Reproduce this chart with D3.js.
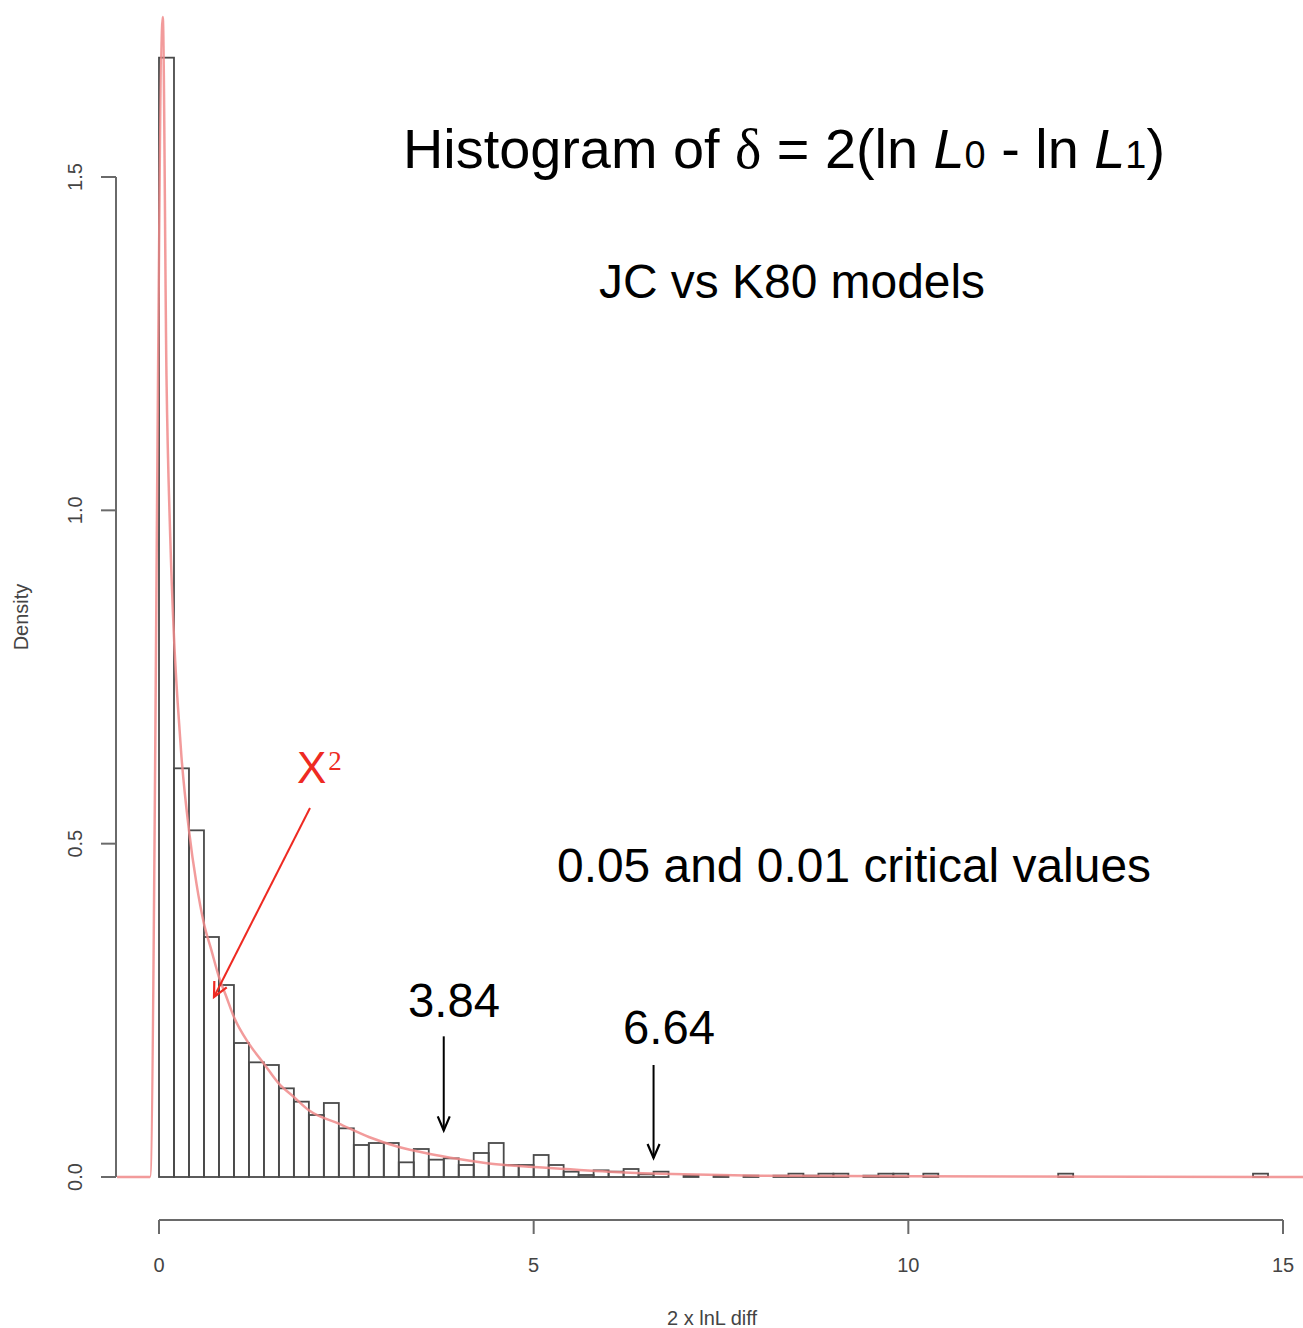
<!DOCTYPE html>
<html>
<head>
<meta charset="utf-8">
<script src="https://cdn.jsdelivr.net/npm/d3@7"></script>
<style>
  html, body { margin: 0; padding: 0; background: #fff; }
  svg { display: block; }
  text { font-family: "Liberation Sans", Arial, Helvetica, sans-serif; }
</style>
</head>
<body>
<svg id="chart" width="1303" height="1328"></svg>
<script>
// ---- data ----
const binWidth = 0.2;
// histogram densities, bins of width 0.2 starting at 0
const densities = [
  1.679, 0.613, 0.520, 0.360, 0.288, 0.201, 0.172, 0.168, 0.133, 0.113,
  0.093, 0.111, 0.073, 0.048, 0.051, 0.051, 0.022, 0.042, 0.026, 0.028,
  0.018, 0.036, 0.051, 0.018, 0.018, 0.033, 0.018, 0.008, 0.003, 0.010,
  0.008, 0.012, 0.004, 0.008, 0.000, 0.002, 0.000, 0.002, 0.000, 0.002,
  0.000, 0.002, 0.005, 0.002, 0.005, 0.005, 0.000, 0.002, 0.005, 0.005,
  0.000, 0.005, 0.000, 0.000, 0.000, 0.000, 0.000, 0.000, 0.000, 0.000,
  0.005, 0.000, 0.000, 0.000, 0.000, 0.000, 0.000, 0.000, 0.000, 0.000,
  0.000, 0.000, 0.000, 0.005
];
// red chi-square curve
const curveX = [-0.56, -0.12, 0.05, 0.1, 0.15, 0.2, 0.25, 0.3, 0.4, 0.5, 0.6, 0.7, 0.8, 0.9, 1.0,
  1.2, 1.4, 1.6, 1.8, 2.0, 2.4, 2.8, 3.2, 3.6, 4.0, 4.5, 5.0, 6.0, 7.0, 8.0, 10, 15.3];
const curveY = [0, 0, 1.74, 1.20, 0.96, 0.81, 0.71, 0.63, 0.52, 0.44, 0.38, 0.34, 0.30, 0.27, 0.24,
  0.20, 0.17, 0.14, 0.12, 0.10, 0.08, 0.06, 0.045, 0.035, 0.027, 0.019, 0.015, 0.008, 0.004, 0.002, 0.001, 0];
const xTicks = [0, 5, 10, 15];
const yTicks = [0.0, 0.5, 1.0, 1.5];
const criticalValues = [3.84, 6.64];
const criticalLabels = ["3.84", "6.64"];

// ---- drawing ----
const svg = d3.select("#chart");
const x = d3.scaleLinear().domain([0, 15]).range([159, 1283]);
const y = d3.scaleLinear().domain([0, 1.5]).range([1177, 177]);

const axisColor = "#6a6a6a";
const labelColor = "#444";

// y axis
const yAxisX = 116;
svg.append("line").attr("x1", yAxisX).attr("x2", yAxisX)
  .attr("y1", y(0)).attr("y2", y(1.5))
  .attr("stroke", axisColor).attr("stroke-width", 2);
yTicks.forEach(t => {
  svg.append("line").attr("x1", yAxisX).attr("x2", yAxisX - 15)
    .attr("y1", y(t)).attr("y2", y(t))
    .attr("stroke", axisColor).attr("stroke-width", 2);
  svg.append("text")
    .attr("transform", `translate(82,${y(t)}) rotate(-90)`)
    .attr("text-anchor", "middle")
    .attr("font-size", 20).attr("fill", labelColor)
    .text(t.toFixed(1));
});
svg.append("text")
  .attr("transform", `translate(28,617) rotate(-90)`)
  .attr("text-anchor", "middle")
  .attr("font-size", 20).attr("fill", labelColor)
  .text("Density");

// x axis
const xAxisY = 1220;
svg.append("line").attr("x1", x(0)).attr("x2", x(15))
  .attr("y1", xAxisY).attr("y2", xAxisY)
  .attr("stroke", axisColor).attr("stroke-width", 2);
xTicks.forEach(t => {
  svg.append("line").attr("x1", x(t)).attr("x2", x(t))
    .attr("y1", xAxisY).attr("y2", xAxisY + 14)
    .attr("stroke", axisColor).attr("stroke-width", 2);
  svg.append("text")
    .attr("x", x(t)).attr("y", 1272)
    .attr("text-anchor", "middle")
    .attr("font-size", 20).attr("fill", labelColor)
    .text(t);
});
svg.append("text")
  .attr("x", 712).attr("y", 1325)
  .attr("text-anchor", "middle")
  .attr("font-size", 20).attr("fill", labelColor)
  .text("2 x lnL diff");

// histogram bars
svg.append("g").selectAll("rect")
  .data(densities)
  .join("rect")
  .attr("x", (d, i) => x(i * binWidth))
  .attr("width", x(binWidth) - x(0))
  .attr("y", d => y(d))
  .attr("height", d => y(0) - y(d))
  .attr("fill", "none")
  .attr("stroke", "#4a4a4a")
  .attr("stroke-width", 1.8);

// red curve
const pts = curveX.map((v, i) => [v, curveY[i]]);
svg.append("path")
  .datum(pts)
  .attr("d", d3.line().x(d => x(d[0])).y(d => y(d[1])).curve(d3.curveMonotoneX))
  .attr("fill", "none")
  .attr("stroke", "#f08a8a")
  .attr("stroke-opacity", 0.85)
  .attr("stroke-width", 2.5);

// title
const title = svg.append("text")
  .attr("x", 403).attr("y", 168)
  .attr("font-size", 56).attr("fill", "#000")
  .attr("textLength", 762).attr("lengthAdjust", "spacingAndGlyphs");
title.append("tspan").text("Histogram of ");
title.append("tspan").attr("font-family", "'Liberation Serif', 'DejaVu Serif', serif").text("δ");
title.append("tspan").text(" = 2(ln ");
title.append("tspan").attr("font-style", "italic").text("L");
title.append("tspan").attr("font-size", 38).text("0");
title.append("tspan").text(" - ln ");
title.append("tspan").attr("font-style", "italic").text("L");
title.append("tspan").attr("font-size", 38).text("1");
title.append("tspan").text(")");

svg.append("text").attr("x", 792).attr("y", 298)
  .attr("text-anchor", "middle").attr("font-size", 48)
  .attr("textLength", 386).attr("lengthAdjust", "spacingAndGlyphs")
  .text("JC vs K80 models");

svg.append("text").attr("x", 557).attr("y", 882)
  .attr("font-size", 48)
  .attr("textLength", 594).attr("lengthAdjust", "spacingAndGlyphs")
  .text("0.05 and 0.01 critical values");

// critical value arrows
const arrowTop = [0.211, 0.168];
const arrowTip = [0.07, 0.0285];
const labelX = [408, 623];
const labelY = [1017, 1044];
criticalValues.forEach((cv, i) => {
  const ax = x(cv) - 3;
  svg.append("line").attr("x1", ax).attr("x2", ax)
    .attr("y1", y(arrowTop[i])).attr("y2", y(arrowTip[i]))
    .attr("stroke", "#000").attr("stroke-width", 2);
  svg.append("path")
    .attr("d", `M${ax - 6},${y(arrowTip[i]) - 14} L${ax},${y(arrowTip[i])} L${ax + 6},${y(arrowTip[i]) - 14}`)
    .attr("fill", "none").attr("stroke", "#000").attr("stroke-width", 2.2);
  svg.append("text").attr("x", labelX[i]).attr("y", labelY[i])
    .attr("font-size", 48)
    .attr("textLength", 92).attr("lengthAdjust", "spacingAndGlyphs")
    .text(criticalLabels[i]);
});

// chi-square label and arrow
const red = "#ee2a22";
const chi = svg.append("text").attr("x", 297).attr("y", 783)
  .attr("font-size", 44).attr("fill", red);
chi.append("tspan").text("X");
chi.append("tspan").attr("font-family", "'Liberation Serif', 'DejaVu Serif', serif")
  .attr("font-size", 27).attr("dy", -13).attr("dx", 2).text("2");

const ax0 = 310, ay0 = 808, ax1 = 214, ay1 = 997;
svg.append("line").attr("x1", ax0).attr("y1", ay0).attr("x2", ax1).attr("y2", ay1)
  .attr("stroke", red).attr("stroke-width", 2);
const ang = Math.atan2(ay1 - ay0, ax1 - ax0);
const hl = 16, hw = 0.45;
svg.append("path")
  .attr("d", `M${ax1 - hl * Math.cos(ang - hw)},${ay1 - hl * Math.sin(ang - hw)} L${ax1},${ay1} L${ax1 - hl * Math.cos(ang + hw)},${ay1 - hl * Math.sin(ang + hw)}`)
  .attr("fill", "none").attr("stroke", red).attr("stroke-width", 2.2);
</script>
</body>
</html>
